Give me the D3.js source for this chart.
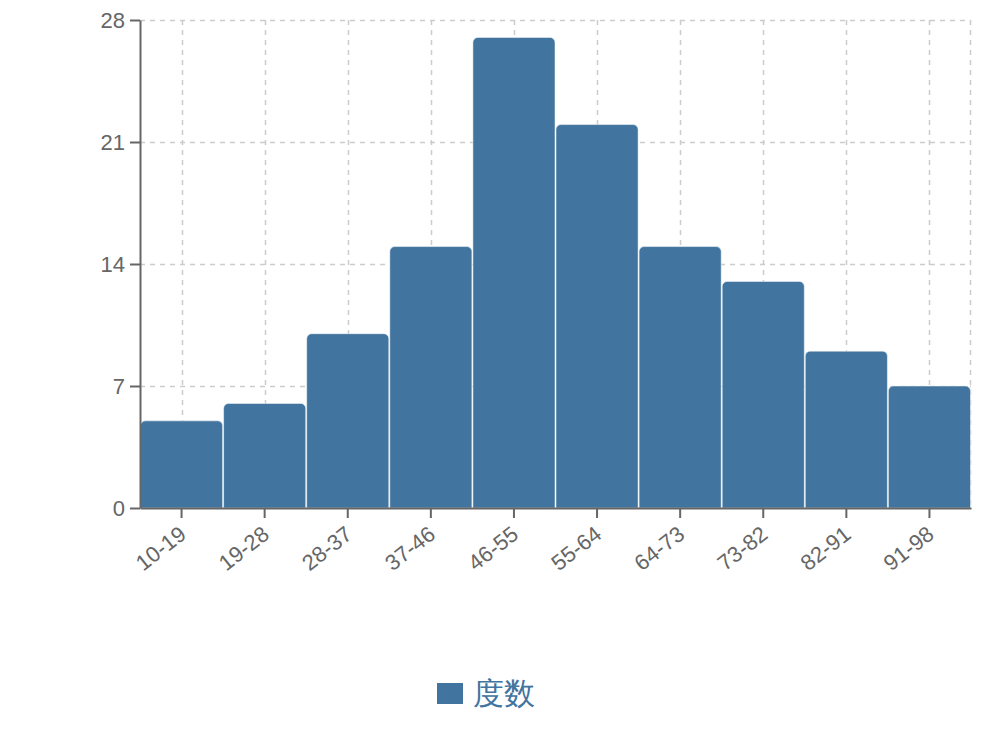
<!DOCTYPE html>
<html>
<head>
<meta charset="utf-8">
<script src="https://cdn.jsdelivr.net/npm/d3@7"></script>
<style>
  body { margin: 0; background: #fff; }
  text { font-family: "Liberation Sans", Arial, sans-serif; }
</style>
</head>
<body>
<script>
// data
const categories = ["10-19", "19-28", "28-37", "37-46", "46-55", "55-64", "64-73", "73-82", "82-91", "91-98"];
const counts = [5, 6, 10, 15, 27, 22, 15, 13, 9, 7];
const yTicks = [0, 7, 14, 21, 28];
const seriesName = "度数";

let width = 992,
    height = 736;

let margin = { top: 20, bottom: 228, left: 140, right: 21 };

const barColor = "#41749f";
const axisColor = "#666";

let svg = d3.select('body')
  .append('svg')
    .attr('width', width)
    .attr('height', height);

let xScale = d3.scaleBand()
  .domain(categories)
  .range([margin.left, width - margin.right])
  .padding(0);

let yScale = d3.scaleLinear()
  .domain([0, 28])
  .range([height - margin.bottom, margin.top]);

// grid
let grid = svg.append('g');
grid.selectAll('.hg')
  .data(yTicks.filter(d => d > 0))
  .enter().append('line')
    .attr('x1', margin.left)
    .attr('x2', width - margin.right)
    .attr('y1', d => yScale(d) + 0.5)
    .attr('y2', d => yScale(d) + 0.5);
grid.selectAll('.vg')
  .data(categories)
  .enter().append('line')
    .attr('x1', d => Math.round(xScale(d) + xScale.bandwidth() / 2) + 0.5)
    .attr('x2', d => Math.round(xScale(d) + xScale.bandwidth() / 2) + 0.5)
    .attr('y1', margin.top)
    .attr('y2', height - margin.bottom);
grid.append('line')
  .attr('x1', width - margin.right - 0.5)
  .attr('x2', width - margin.right - 0.5)
  .attr('y1', margin.top)
  .attr('y2', height - margin.bottom);
grid.selectAll('line')
  .attr('stroke', '#ccc')
  .attr('stroke-width', 1.5)
  .attr('stroke-dasharray', '5,5');

// bars with rounded tops
const r = 5;
function barPath(x, y, w, h) {
  const rr = Math.min(r, h);
  return `M${x},${y + h} V${y + rr} A${rr},${rr} 0 0 1 ${x + rr},${y} H${x + w - rr} A${rr},${rr} 0 0 1 ${x + w},${y + rr} V${y + h} Z`;
}

svg.append('g')
  .selectAll('path')
  .data(categories.map((c, i) => ({ c: c, v: counts[i] })))
  .enter().append('path')
    .attr('d', d => barPath(
      xScale(d.c) + 0.5,
      yScale(d.v),
      xScale.bandwidth() - 1,
      yScale(0) - yScale(d.v)))
    .attr('fill', barColor)
    .attr('stroke', '#fff')
    .attr('stroke-width', 0.5);

// axes
let yAxis = svg.append('g')
  .attr('transform', `translate(${margin.left},0)`)
  .call(d3.axisLeft(yScale).tickValues(yTicks).tickSize(10).tickSizeOuter(0).tickPadding(5));

let xAxis = svg.append('g')
  .attr('transform', `translate(0,${height - margin.bottom})`)
  .call(d3.axisBottom(xScale).tickSize(10).tickSizeOuter(0));

[xAxis, yAxis].forEach(a => {
  a.selectAll('path, line').attr('stroke', axisColor).attr('stroke-width', 2);
  a.selectAll('text').attr('fill', axisColor)
    .attr('font-size', 22)
    .attr('font-family', '"Liberation Sans", Arial, sans-serif');
});

xAxis.selectAll('.tick text')
  .attr('font-size', 22)
  .attr('text-anchor', 'end')
  .attr('x', 0)
  .attr('y', 0)
  .attr('dy', 0)
  .attr('transform', 'translate(6,29) rotate(-38)');

// legend
let legend = svg.append('g')
  .attr('transform', `translate(437,683)`);
legend.append('rect')
  .attr('width', 26)
  .attr('height', 21)
  .attr('fill', barColor);
legend.append('text')
  .attr('x', 36)
  .attr('y', 10.5)
  .attr('dy', '0.35em')
  .attr('fill', barColor)
  .attr('font-size', 31)
  .attr('font-family', '"Noto Sans CJK SC", sans-serif')
  .text(seriesName);
</script>
</body>
</html>
